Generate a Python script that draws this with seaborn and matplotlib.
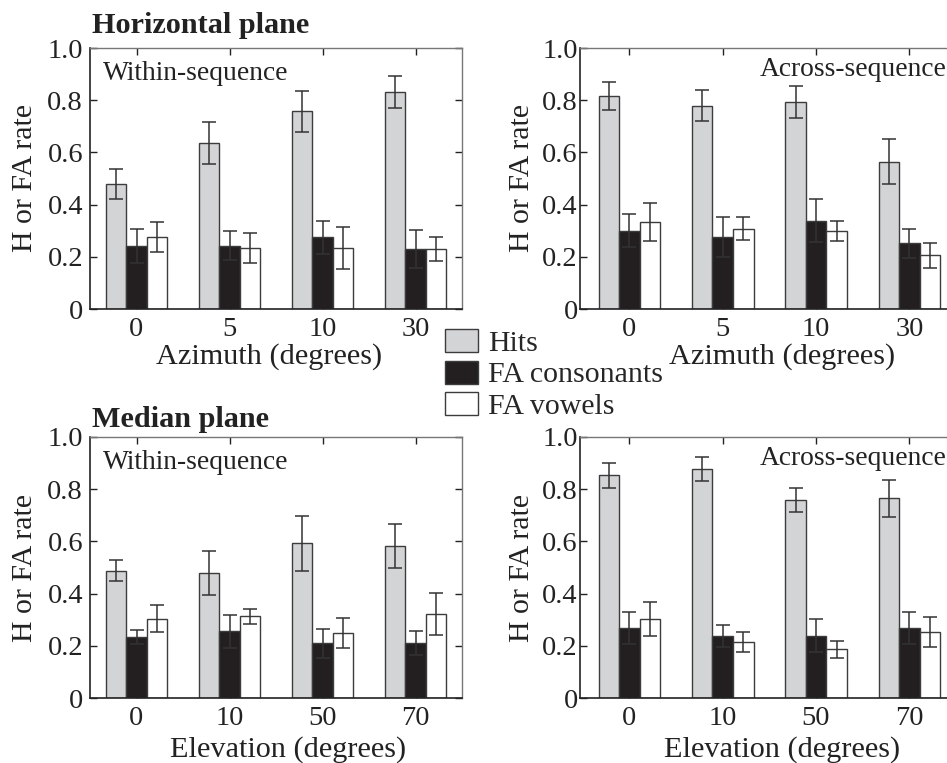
import matplotlib
matplotlib.use("Agg")
import matplotlib.pyplot as plt
from matplotlib.patches import Patch
import seaborn as sns
import pandas as pd

# Conditions and series
azimuth_labels = ["0", "5", "10", "30"]
elevation_labels = ["0", "10", "50", "70"]
series_names = ["Hits", "FA consonants", "FA vowels"]

# Horizontal plane, within-sequence
hw_hits = [0.478, 0.636, 0.757, 0.831]
hw_cons = [0.242, 0.242, 0.274, 0.230]
hw_vow = [0.277, 0.234, 0.234, 0.230]
hw_hits_err = [0.058, 0.080, 0.080, 0.062]
hw_cons_err = [0.064, 0.055, 0.064, 0.073]
hw_vow_err = [0.058, 0.057, 0.081, 0.045]

# Horizontal plane, across-sequence
ha_hits = [0.815, 0.779, 0.793, 0.565]
ha_cons = [0.300, 0.276, 0.338, 0.252]
ha_vow = [0.335, 0.308, 0.299, 0.205]
ha_hits_err = [0.053, 0.059, 0.063, 0.085]
ha_cons_err = [0.064, 0.078, 0.083, 0.056]
ha_vow_err = [0.073, 0.043, 0.040, 0.046]

# Median plane, within-sequence
mw_hits = [0.488, 0.480, 0.593, 0.584]
mw_cons = [0.235, 0.256, 0.210, 0.211]
mw_vow = [0.304, 0.313, 0.249, 0.322]
mw_hits_err = [0.041, 0.084, 0.105, 0.084]
mw_cons_err = [0.027, 0.063, 0.055, 0.046]
mw_vow_err = [0.051, 0.028, 0.058, 0.082]

# Median plane, across-sequence
ma_hits = [0.853, 0.876, 0.758, 0.765]
ma_cons = [0.267, 0.237, 0.239, 0.268]
ma_vow = [0.302, 0.213, 0.186, 0.253]
ma_hits_err = [0.049, 0.046, 0.046, 0.070]
ma_cons_err = [0.061, 0.041, 0.064, 0.063]
ma_vow_err = [0.066, 0.038, 0.033, 0.059]

bar_colors = ["#d3d4d6", "#231f20", "#ffffff"]

sns.set_style("ticks")
plt.rcParams["font.family"] = ["Liberation Serif", "DejaVu Serif"]

W, H = 947, 763
fig = plt.figure(figsize=(W / 100, H / 100), dpi=100)


def px_axes(left, top, right, bottom):
    return fig.add_axes([left / W, 1 - bottom / H, (right - left) / W, (bottom - top) / H])


def draw_panel(ax, labels, means, errs, xlabel, inset, inset_right, xlim,
               xlabel_x, xlabel_y, ylabel_x, ytick_pad):
    rows = []
    for name, vals in zip(series_names, means):
        for lab, v in zip(labels, vals):
            rows.append({"cond": lab, "series": name, "rate": v})
    df = pd.DataFrame(rows)
    sns.barplot(data=df, x="cond", y="rate", hue="series", order=labels,
                hue_order=series_names, palette=bar_colors, width=0.66,
                edgecolor="#3c3c3c", linewidth=1.0, errorbar=None,
                legend=False, ax=ax, saturation=1)
    # error bars at the centre of each drawn bar
    for cont, err in zip(ax.containers, errs):
        xs = [p.get_x() + p.get_width() / 2 for p in cont.patches]
        ys = [p.get_height() for p in cont.patches]
        ax.errorbar(xs, ys, yerr=err, fmt="none", ecolor="#333333",
                    elinewidth=1.1, capsize=4.8, capthick=1.1, zorder=5)
    ax.set_ylim(0, 1.0)
    ax.set_xlim(*xlim)
    ax.set_yticks([0, 0.2, 0.4, 0.6, 0.8, 1.0])
    ax.set_yticklabels(["0", "0.2", "0.4", "0.6", "0.8", "1.0"])
    ax.tick_params(axis="both", direction="in", length=5, width=1,
                   labelsize=20.5, colors="#222222")
    ax.tick_params(axis="y", pad=ytick_pad, right=True)
    ax.tick_params(axis="x", pad=6, top=True)
    for side in ["left", "bottom"]:
        ax.spines[side].set_color("#222222")
        ax.spines[side].set_linewidth(1.2)
    for side in ["top", "right"]:
        ax.spines[side].set_color("#777777")
        ax.spines[side].set_linewidth(1.0)
    ax.set_xlabel(xlabel, fontsize=21.8, color="#222222", va="center")
    ax.xaxis.set_label_coords(xlabel_x, xlabel_y)
    ax.set_ylabel("H or FA rate", fontsize=21.5, color="#222222", va="center")
    ax.yaxis.set_label_coords(ylabel_x, 0.5)
    if inset_right:
        ax.text(0.975, 0.918, inset, transform=ax.transAxes, ha="right",
                va="center", fontsize=19.8, color="#222222")
    else:
        ax.text(0.035, 0.903, inset, transform=ax.transAxes, ha="left",
                va="center", fontsize=19.8, color="#222222")


ax1 = px_axes(90, 48, 462, 309)
ax2 = px_axes(580, 48, 956, 309)
ax3 = px_axes(90, 437, 462, 698)
ax4 = px_axes(580, 437, 956, 698)

draw_panel(ax1, azimuth_labels, [hw_hits, hw_cons, hw_vow],
           [hw_hits_err, hw_cons_err, hw_vow_err], "Azimuth (degrees)",
           "Within-sequence", False, (-0.5, 3.5), 0.481, -0.184, -0.175, 5)
draw_panel(ax2, azimuth_labels, [ha_hits, ha_cons, ha_vow],
           [ha_hits_err, ha_cons_err, ha_vow_err], "Azimuth (degrees)",
           "Across-sequence", True, (-0.53, 3.5), 0.537, -0.184, -0.155, 1.5)
draw_panel(ax3, elevation_labels, [mw_hits, mw_cons, mw_vow],
           [mw_hits_err, mw_cons_err, mw_vow_err], "Elevation (degrees)",
           "Within-sequence", False, (-0.5, 3.5), 0.532, -0.197, -0.175, 5)
draw_panel(ax4, elevation_labels, [ma_hits, ma_cons, ma_vow],
           [ma_hits_err, ma_cons_err, ma_vow_err], "Elevation (degrees)",
           "Across-sequence", True, (-0.53, 3.5), 0.537, -0.197, -0.155, 1.5)

fig.text(92 / W, 1 - 33 / H, "Horizontal plane", fontsize=21.8, fontweight="bold",
         ha="left", va="baseline", color="#222222")
fig.text(92 / W, 1 - 427 / H, "Median plane", fontsize=21.8, fontweight="bold",
         ha="left", va="baseline", color="#222222")

handles = [Patch(facecolor=c, edgecolor="#3c3c3c", linewidth=1.0) for c in bar_colors]
fig.legend(handles, series_names, loc="upper left",
           bbox_to_anchor=(445 / W, 1 - 329 / H), frameon=False, fontsize=21.5,
           handlelength=1.1, handleheight=0.8, handletextpad=0.35,
           labelspacing=0.13, borderaxespad=0, borderpad=0)

fig.savefig("out.png", dpi=100)
